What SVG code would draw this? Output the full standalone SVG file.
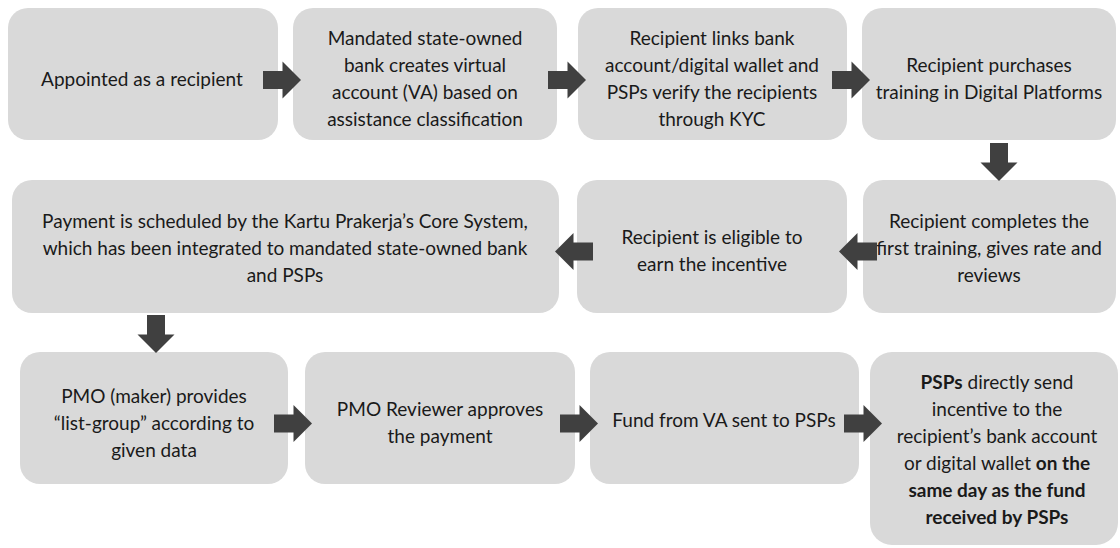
<svg xmlns="http://www.w3.org/2000/svg" width="1120" height="548" viewBox="0 0 1120 548">
  <style>
    .box { fill: #d9d9d9; }
    .lbl { font-family: Lato, "Liberation Sans", sans-serif; font-size: 19px; fill: #1a1a1a; text-anchor: middle; }
    .b { font-weight: bold; }
    .arr { fill: #404040; }
  </style>
  <defs>
    <!-- block arrow pointing right, origin at tail centre -->
    <path id="blk" d="M0,-9 H19.5 V-18.5 L38,0 L19.5,18.5 V9 H0 Z"/>
  </defs>
  <rect width="1120" height="548" fill="#fff"/>

  <g id="n1"><rect class="box" x="8" y="8" width="270" height="132" rx="20"/>
    <text class="lbl" x="142" y="86">Appointed as a recipient</text></g>
  <g id="n2"><rect class="box" x="293" y="8" width="264" height="132" rx="20"/>
    <text class="lbl" x="425" y="45">Mandated state-owned<tspan x="425" dy="27">bank creates virtual</tspan><tspan x="425" dy="27">account (VA) based on</tspan><tspan x="425" dy="27">assistance classification</tspan></text></g>
  <g id="n3"><rect class="box" x="578" y="8" width="269" height="132" rx="20"/>
    <text class="lbl" x="712" y="45">Recipient links bank<tspan x="712" dy="27">account/digital wallet and</tspan><tspan x="712" dy="27">PSPs verify the recipients</tspan><tspan x="712" dy="27">through KYC</tspan></text></g>
  <g id="n4"><rect class="box" x="862" y="8" width="254" height="132" rx="20"/>
    <text class="lbl" x="989" y="72">Recipient purchases<tspan x="989" dy="27">training in Digital Platforms</tspan></text></g>

  <g id="n5"><rect class="box" x="12" y="180" width="547" height="133" rx="20"/>
    <text class="lbl" x="285" y="228">Payment is scheduled by the Kartu Prakerja’s Core System,<tspan x="285" dy="27">which has been integrated to mandated state-owned bank</tspan><tspan x="285" dy="27">and PSPs</tspan></text></g>
  <g id="n6"><rect class="box" x="577" y="180" width="270" height="133" rx="20"/>
    <text class="lbl" x="712" y="244">Recipient is eligible to<tspan x="712" dy="27">earn the incentive</tspan></text></g>
  <g id="n7"><rect class="box" x="863" y="180" width="253" height="133" rx="20"/>
    <text class="lbl" x="989" y="228">Recipient completes the<tspan x="989" dy="27">first training, gives rate and</tspan><tspan x="989" dy="27">reviews</tspan></text></g>

  <g id="n8"><rect class="box" x="20" y="352" width="268" height="132" rx="20"/>
    <text class="lbl" x="154" y="403">PMO (maker) provides<tspan x="154" dy="27">“list-group” according to</tspan><tspan x="154" dy="27">given data</tspan></text></g>
  <g id="n9"><rect class="box" x="305" y="352" width="270" height="132" rx="20"/>
    <text class="lbl" x="440" y="416">PMO Reviewer approves<tspan x="440" dy="27">the payment</tspan></text></g>
  <g id="n10"><rect class="box" x="590" y="352" width="269" height="132" rx="20"/>
    <text class="lbl" x="724" y="427">Fund from VA sent to PSPs</text></g>
  <g id="n11"><rect class="box" x="870" y="352" width="248" height="193" rx="22"/>
    <text class="lbl" x="997" y="389"><tspan class="b">PSPs</tspan> directly send<tspan x="997" dy="27">incentive to the</tspan><tspan x="997" dy="27">recipient’s bank account</tspan><tspan x="997" dy="27">or digital wallet <tspan class="b">on the</tspan></tspan><tspan x="997" dy="27" class="b">same day as the fund</tspan><tspan x="997" dy="27" class="b">received by PSPs</tspan></text></g>

  <g id="connectors" class="arr">
    <use href="#blk" transform="translate(263,80)"/>
    <use href="#blk" transform="translate(548,80)"/>
    <use href="#blk" transform="translate(832,80)"/>
    <use href="#blk" transform="translate(999,143) rotate(90)"/>
    <use href="#blk" transform="translate(877,251.5) rotate(180)"/>
    <use href="#blk" transform="translate(593,251.5) rotate(180)"/>
    <use href="#blk" transform="translate(156,315) rotate(90)"/>
    <use href="#blk" transform="translate(274,423.5)"/>
    <use href="#blk" transform="translate(560,423.5)"/>
    <use href="#blk" transform="translate(844,423.5)"/>
  </g>
</svg>
